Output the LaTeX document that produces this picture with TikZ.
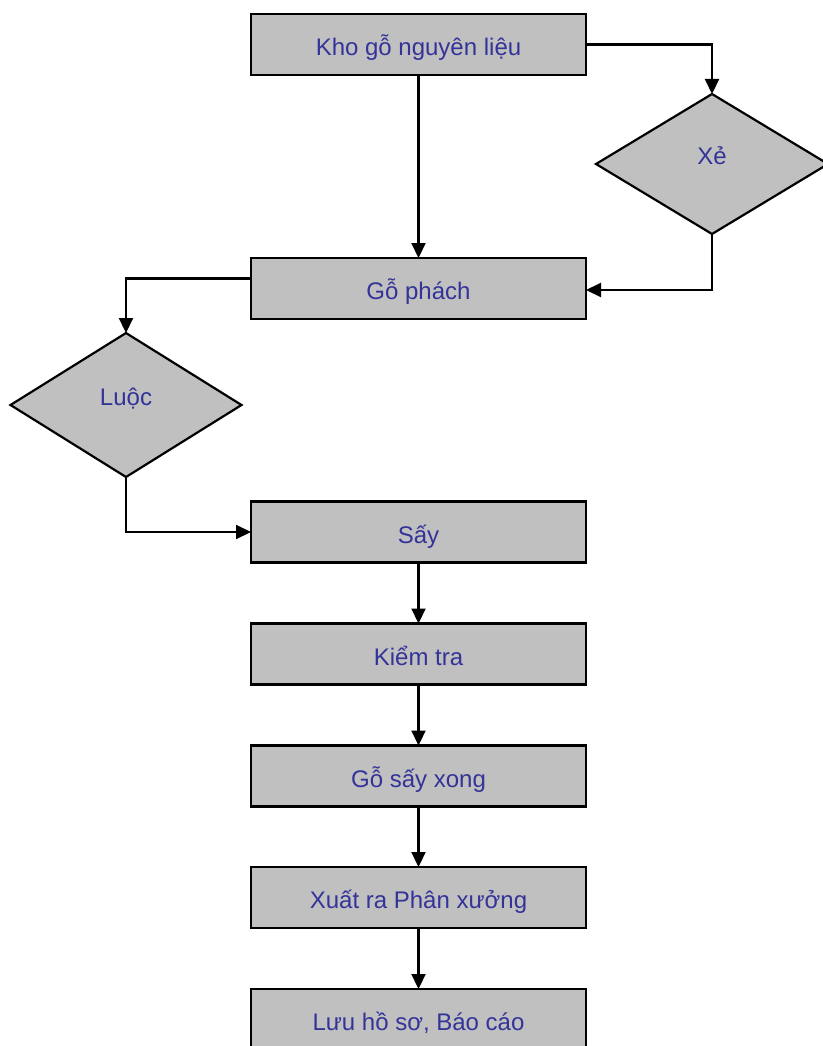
\documentclass[tikz,border=0pt]{standalone}
\usepackage{fontspec}
\setmainfont{Liberation Sans}
\usetikzlibrary{shapes.geometric,arrows.meta}
\definecolor{boxgray}{RGB}{192,192,192}
\definecolor{txtblue}{RGB}{51,51,153}
\tikzset{
  procbox/.style={draw=black,line width=2.6pt,fill=boxgray,minimum width=335pt,minimum height=61pt,inner sep=0pt,outer sep=0pt,text=txtblue,font=\fontsize{24}{28}\selectfont,text height=22pt,text depth=0pt},
  decision/.style={draw=black,line width=2.2pt,fill=boxgray,diamond,aspect=1.6,minimum width=230pt,minimum height=142pt,inner sep=0pt,outer sep=0pt,text=txtblue,font=\fontsize{24}{28}\selectfont,text height=10pt,text depth=10pt},
  conn/.style={line width=2.2pt,-{Triangle[length=15pt,width=14pt]}}
}
\begin{document}
\begin{tikzpicture}[x=1pt,y=-1pt]
\useasboundingbox (0,0) rectangle (822,1046);
\node[procbox] (kho) at (418.5,44.5) {Kho gỗ nguyên liệu};
\node[procbox] (phach) at (418.5,288.5) {Gỗ phách};
\node[procbox] (say) at (418.5,532) {Sấy};
\node[procbox] (kiem) at (418.5,654) {Kiểm tra};
\node[procbox] (xong) at (418.5,776) {Gỗ sấy xong};
\node[procbox] (xuat) at (418.5,897.5) {Xuất ra Phân xưởng};
\node[procbox] (luu) at (418.5,1019.5) {Lưu hồ sơ, Báo cáo};
\node[decision,minimum width=232pt,minimum height=140pt] (xe) at (712,164) {Xẻ};
\node[decision,minimum width=231pt,minimum height=144pt] (luoc) at (126,405) {Luộc};
\coordinate (c1) at (712,44.5);
\coordinate (c2) at (712,290);
\coordinate (c3) at (126,278.5);
\coordinate (c4) at (126,532);
\draw[conn] (kho.south) -- (phach.north);
\draw[conn] (kho.east |- c1) -- (c1) -- (xe.north);
\draw[conn] (xe.south) -- (c2) -- (phach.east |- c2);
\draw[conn] (phach.west |- c3) -- (c3) -- (luoc.north);
\draw[conn] (luoc.south) -- (c4) -- (say.west);
\draw[conn] (say.south) -- (kiem.north);
\draw[conn] (kiem.south) -- (xong.north);
\draw[conn] (xong.south) -- (xuat.north);
\draw[conn] (xuat.south) -- (luu.north);
\end{tikzpicture}
\end{document}
